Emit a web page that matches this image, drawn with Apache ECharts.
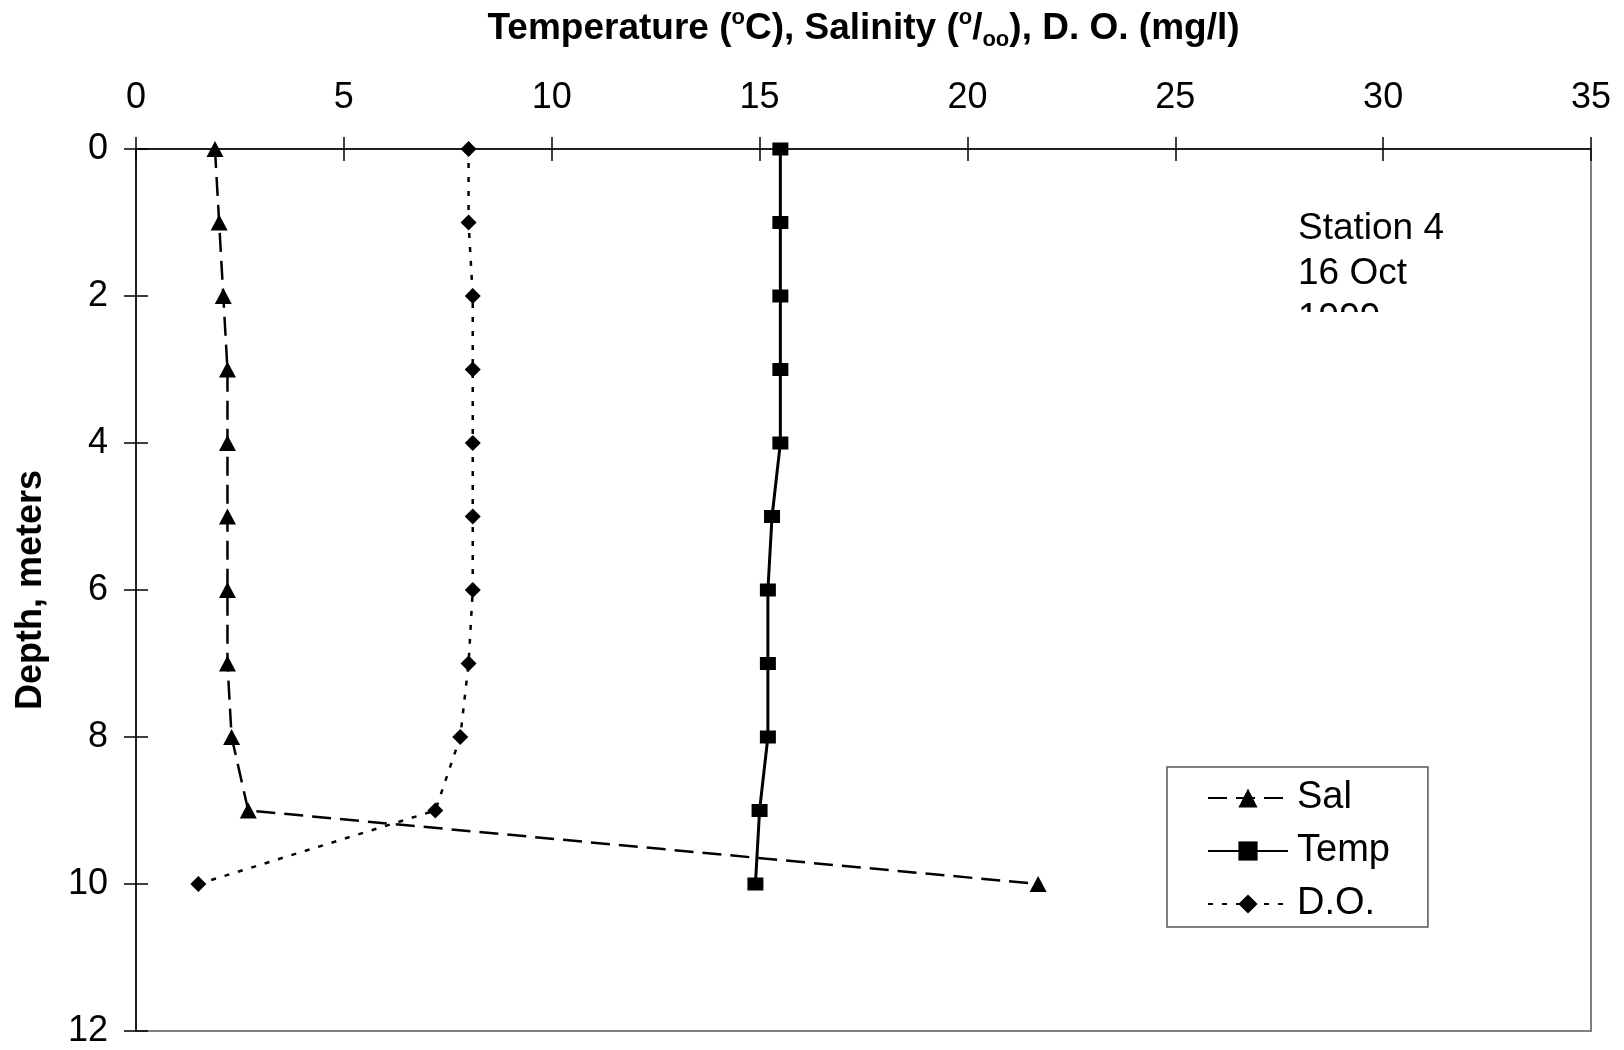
<!DOCTYPE html>
<html>
<head>
<meta charset="utf-8">
<script src="https://cdn.jsdelivr.net/npm/echarts@6/dist/echarts.min.js"></script>
<style>
html,body{margin:0;padding:0;background:#fff;}
#chart{width:1624px;height:1050px;}
</style>
</head>
<body>
<div id="chart"></div>
<script>
// ---- data ----
var depths = [0, 1, 2, 3, 4, 5, 6, 7, 8, 9, 10];
var salValues = [1.9, 2.0, 2.1, 2.2, 2.2, 2.2, 2.2, 2.2, 2.3, 2.7, 21.7];
var tempValues = [15.5, 15.5, 15.5, 15.5, 15.5, 15.3, 15.2, 15.2, 15.2, 15.0, 14.9];
var doValues = [8.0, 8.0, 8.1, 8.1, 8.1, 8.1, 8.1, 8.0, 7.8, 7.2, 1.5];
var seriesNames = ['Sal', 'Temp', 'D.O.'];
var stationLines = ['Station 4', '16 Oct', '1999'];
var xTicks = {min: 0, max: 35, interval: 5};
var yTicks = {min: 0, max: 12, interval: 2};

var FONT = '"Liberation Sans", Arial, sans-serif';

function pairs(vals) {
  return vals.map(function (v, i) { return [v, depths[i]]; });
}

var chart = echarts.init(document.getElementById('chart'));

var gridPos = {left: 136, top: 149, width: 1455, height: 882};

var option = {
  animation: false,
  backgroundColor: '#ffffff',
  textStyle: {fontFamily: FONT},
  grid: {
    left: gridPos.left, top: gridPos.top, width: gridPos.width, height: gridPos.height,
    containLabel: false, outerBoundsMode: 'none',
    show: true, borderColor: '#808080', borderWidth: 2, backgroundColor: 'transparent'
  },
  xAxis: [{
    type: 'value', position: 'top',
    min: xTicks.min, max: xTicks.max, interval: xTicks.interval,
    name: '{b|Temperature (}{sup|o}{b|C), Salinity (}{sup|o}{b|/}{sub|oo}{b|), D. O. (mg/l)}',
    nameLocation: 'middle', nameGap: 98,
    nameTextStyle: {
      rich: {
        b: {fontFamily: FONT, fontWeight: 'bold', fontSize: 37, color: '#000', lineHeight: 44, verticalAlign: 'middle'},
        sup: {fontFamily: FONT, fontWeight: 'bold', fontSize: 22, color: '#000', lineHeight: 44, verticalAlign: 'top'},
        sub: {fontFamily: FONT, fontWeight: 'bold', fontSize: 22, color: '#000', lineHeight: 44, verticalAlign: 'bottom'}
      }
    },
    axisLine: {show: true, lineStyle: {color: '#000', width: 1.5}},
    axisTick: {show: true, inside: false, length: 12, lineStyle: {color: '#000', width: 1.5}},
    axisLabel: {show: true, fontSize: 36, color: '#000', margin: 33, fontFamily: FONT},
    splitLine: {show: false}
  }, {
    type: 'value', position: 'top',
    min: xTicks.min, max: xTicks.max, interval: xTicks.interval,
    axisLine: {show: false},
    axisTick: {show: true, inside: true, length: 12, lineStyle: {color: '#000', width: 1.5}},
    axisLabel: {show: false},
    splitLine: {show: false}
  }],
  yAxis: [{
    type: 'value', inverse: true,
    min: yTicks.min, max: yTicks.max, interval: yTicks.interval,
    name: 'Depth, meters', nameLocation: 'middle', nameGap: 87, nameRotate: 90,
    nameTextStyle: {fontFamily: FONT, fontWeight: 'bold', fontSize: 36, color: '#000'},
    axisLine: {show: true, lineStyle: {color: '#000', width: 1.5}},
    axisTick: {show: true, inside: false, length: 12, lineStyle: {color: '#000', width: 1.5}},
    axisLabel: {show: true, fontSize: 36, color: '#000', margin: 28, fontFamily: FONT},
    splitLine: {show: false}
  }, {
    type: 'value', inverse: true, position: 'left',
    min: yTicks.min, max: yTicks.max, interval: yTicks.interval,
    axisLine: {show: false},
    axisTick: {show: true, inside: true, length: 12, lineStyle: {color: '#000', width: 1.5}},
    axisLabel: {show: false},
    splitLine: {show: false}
  }],
  legend: {
    orient: 'vertical', align: 'left',
    left: 1167, top: 767,
    data: seriesNames,
    backgroundColor: '#fff',
    borderColor: '#555', borderWidth: 1.5,
    padding: [12, 38, 4, 40],
    itemWidth: 80, itemHeight: 24, itemGap: 15,
    textStyle: {fontSize: 38, color: '#000', fontFamily: FONT, lineHeight: 36, padding: [0, 0, 0, 4]}
  },
  series: [{
    name: seriesNames[0], type: 'line', xAxisIndex: 0, yAxisIndex: 0,
    data: pairs(salValues),
    symbol: 'triangle', symbolSize: [17, 16],
    itemStyle: {color: '#000'},
    lineStyle: {color: '#000', width: 2.5, type: [19, 9]}
  }, {
    name: seriesNames[1], type: 'line', xAxisIndex: 0, yAxisIndex: 0,
    data: pairs(tempValues),
    symbol: 'rect', symbolSize: [16, 13],
    itemStyle: {color: '#000'},
    lineStyle: {color: '#000', width: 3, type: 'solid'}
  }, {
    name: seriesNames[2], type: 'line', xAxisIndex: 0, yAxisIndex: 0,
    data: pairs(doValues),
    symbol: 'diamond', symbolSize: [16, 16],
    itemStyle: {color: '#000'},
    lineStyle: {color: '#000', width: 2.5, type: [5, 9]}
  }],
  graphic: [{
    type: 'text', left: 1298, top: 206, z: 10,
    style: {
      text: stationLines.join('\n'),
      font: '37px ' + FONT, fill: '#000', lineHeight: 45
    }
  }, {
    type: 'rect', left: 1288, top: 312, z: 11,
    shape: {width: 170, height: 45},
    style: {fill: '#fff'}
  }]
};

chart.setOption(option);
</script>
</body>
</html>
